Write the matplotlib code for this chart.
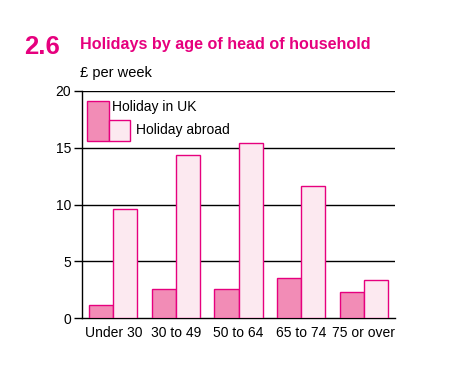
import matplotlib
matplotlib.use("Agg")
import matplotlib.pyplot as plt
from matplotlib.patches import Rectangle
import numpy as np

categories = ["Under 30", "30 to 49", "50 to 64", "65 to 74", "75 or over"]
uk = [1.15, 2.55, 2.55, 3.5, 2.3]
abroad = [9.6, 14.35, 15.4, 11.6, 3.35]
yticks = [0, 5, 10, 15, 20]

MAG = "#E6007E"
UKC = "#F28CB6"
ABC = "#FCE9F0"

plt.rcParams['font.family'] = ['Liberation Sans', 'DejaVu Sans']

fig = plt.figure(figsize=(4.51, 3.8), dpi=100)
ax = fig.add_axes([82/451, 1-318/380, (395-82)/451, (318-91)/380])

x = np.arange(len(categories))
w = 0.385
ax.bar(x - w/2, uk, w, color=UKC, edgecolor=MAG, linewidth=1.0, zorder=3)
ax.bar(x + w/2, abroad, w, color=ABC, edgecolor=MAG, linewidth=1.0, zorder=3)

ax.set_xlim(-0.5, 4.5)
ax.set_ylim(0, 20)
ax.set_yticks(yticks)
ax.set_xticks(x)
ax.set_xticklabels(categories)
for y in yticks[1:]:
    ax.axhline(y, color="black", linewidth=1.0, zorder=1)
for s in ["top", "right"]:
    ax.spines[s].set_visible(False)
ax.spines["left"].set_linewidth(1.0)
ax.spines["bottom"].set_linewidth(1.0)
ax.tick_params(axis="y", length=6, width=1.0, labelsize=10, pad=2)
ax.tick_params(axis="x", length=0, labelsize=10, pad=6)

# legend drawn manually in figure pixel coords
def px(xp, yp):
    return xp/451, 1-yp/380
fig.patches.append(Rectangle(px(87.3, 141.3), 21.4/451, 40.6/380, transform=fig.transFigure,
                             facecolor=UKC, edgecolor=MAG, linewidth=1.0, zorder=5))
fig.patches.append(Rectangle(px(108.7, 141.3), 21.6/451, 21/380, transform=fig.transFigure,
                             facecolor=ABC, edgecolor=MAG, linewidth=1.0, zorder=5))
fig.text(*px(112, 107), "Holiday in UK", fontsize=10, va="center", ha="left")
fig.text(*px(136, 130), "Holiday abroad", fontsize=10, va="center", ha="left")

fig.text(*px(24, 47), "2.6", fontsize=18.5, fontweight="bold", color=MAG, va="center", ha="left")
fig.text(*px(80, 44), "Holidays by age of head of household", fontsize=11.6, fontweight="bold",
         color=MAG, va="center", ha="left")
fig.text(*px(80, 73), "£ per week", fontsize=10.5, va="center", ha="left")

fig.savefig("out.png", dpi=100)
